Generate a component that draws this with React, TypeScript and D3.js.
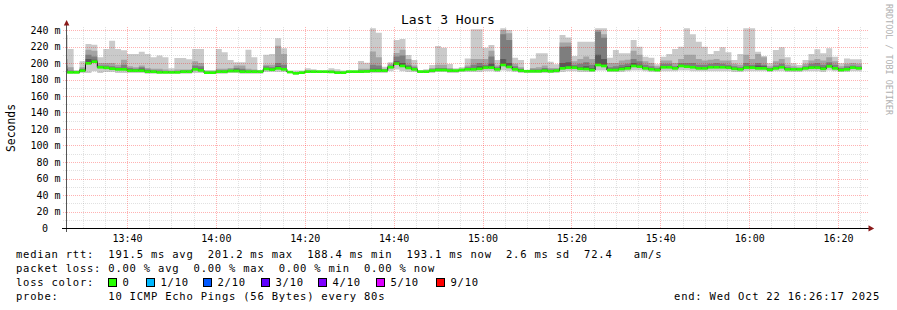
import React from 'react';
import * as d3 from 'd3';

// ---- data (ms) per 80 s column, column 0 starts 13:25:20 ----
const maxRtt = [234,217,191.5,202,223,222,207,217,227,217,215.5,211,211,213.7,211,207,209,207,193.5,206,206,204.4,217,217,191.5,191.5,217,213,203.6,200.8,200.8,216,207,191.5,210,211,230,217.8,189.5,191,191,193.5,192.3,191,191,193.5,192.5,191,191,191,202.4,200.4,242,236.8,195.5,200.8,227.9,229,209.7,203.6,191,192.3,197.6,220.6,218.6,198.8,193.5,194.8,205.6,241,241,218.6,221.8,203.6,242,240,206.5,203.6,191,205.6,211.7,211.7,201.6,198.4,234,231,208.5,225.9,225.9,225.9,242,242,206.5,215.8,211.7,211.7,227.9,219.8,207.7,206.5,198.4,207.7,211,217,219.8,242,235,225.9,219.8,211,214.5,219,213,203.6,211,242,242,213.7,208.5,199.6,215.8,219,207,199.6,197.6,203.6,211,216.6,211.7,217.8,207.7,199.6,205.6,204.4,204.4];
const ping9 = [205,195,190,195,216,215,200,200,200,198,204,196,195,197,194,193,193,192,191,192,192,192,202,200,190,190,193,193,194,197,197,193,192,191,198,198,221,211,189.5,189,189,191,190.5,190,190,191,190,189.5,190,190,193,193,214,207,193,199,212,216,205,197,190.5,191,194,198,198,194,192,193,197,205,205,205,215,197,240,236,199,195,190.5,194,195,197,194,194,225,225,202,205,208,205,240,235,200,200,203,204,215,210,202,200,196,203,203,200,205,210,210,205,203,204,205,203,203,199,198,210,205,211,207,196,202,205,198,196,195,199,203,205,203,207,202,196,199,200,199];
const ping8 = [197,191,189.5,193,210,208,197,197,196,195,198,194,193,195,192,191,191,190,190,190,191,191,197,196,189,189,191,191,192,194,193,191,191,190,196,195,200,198,189,188,188.5,190,190,189.5,189.5,190,189,189,189.5,189.5,191,191,198,197,192,197,208,209,198,195,190,190,192,194,194,192,191.5,192,195,198,200,198,208,195,235,228,196,193,190,192,192,194,192,192,219.8,220,198,199,201,198,238,230.7,195,196,198,199,205,202,198,196,194,199,199,196,200,200,200,198,198,199,200,199,198,196,195,200,198,200,198,194,197,199,195,194,194,196,199,200,198,201,198,194,196,197,196];
const ping7 = [193,190,189,192,205,204,196,195,194,193,194,192,192,193,191,190,190,189.5,189.5,189.5,190,190,194,193,188.5,188.5,190,190,191,192,191,190,190,189.5,194,193,196,194,189,187.5,188,189.5,189.5,189.5,189.5,189.5,188.5,188.5,189.5,189.5,190,190,193,193,191,196,202,200,196,193,189.5,189.5,191,192.5,192.5,191,191,191.5,193,194,196,196,199,193,205,200,194,192,190,191,191,192,191,191.5,200,201,196,195,196,194,210,205,193,193,195,196,200,198,195,194,192.5,196,196,194.5,198,197,196,195,195,196,196,196,196,194,193,196,196,197,196,193,195,196,193,193,193,194.5,196,196,195,198,195,192.5,194,195.5,195];
const medianRtt = [189,188.7,188.7,190.7,199.6,201.6,194.8,194.2,193.1,192.3,192.3,190.7,190.7,190.7,189.5,189.5,188.7,188.7,188.7,188.7,189.5,189.5,192.3,191,188.3,188.3,189.5,189.5,190.3,190.3,189.5,189.5,189.5,189.5,192.7,192,193.5,192.3,189,187.5,188.3,189.5,189.5,189.5,189.5,189.2,188.3,188.3,189.5,189.5,189.5,189.8,190.7,190.7,190.7,194.8,199.2,196.4,194,192.3,189.5,189.5,190.7,191.5,191.5,190.7,190.7,191.5,192.3,192.3,193,194.4,194.4,192.3,197.6,195.2,192.3,190.7,190,190,190,190.7,190,190.7,193.5,194.4,194.4,193,192.7,191.5,197.6,196.4,191.5,191.5,192.7,193.5,196.4,195.6,193.5,192.3,191.5,194.8,194.8,193.5,196.4,195.6,194.8,193.5,193.5,194.8,194.8,194.8,194.4,193,192.3,194.4,194.4,193.5,193.5,191.9,193.5,194.8,192.3,192.3,192.3,193.5,194.4,194.4,193,195.9,193.5,191.5,192.3,194.4,193.5];
const minRtt = [187,187,187,188,188,190,188,189,189,188,188,188,188,188,187,187,187,187,187,187,187,187,188,188,187,187,187,187,188,188,187,187,187,187,189,189,189,189,188,186,187,188,188,188,188,188,187,187,188,188,188,188,188,188,188,190,192,190,189,189,188,188,188,189,189,188,188,189,189,189,189,190,190,189,191,190,189,188,188,188,188,188,188,188,189,190,190,189,189,189,191,191,189,189,189,190,191,191,190,189,189,190,190,190,191,191,190,190,190,190,190,190,190,189,189,190,190,190,190,189,190,190,189,189,189,190,190,190,189,191,190,189,189,190,190];

const yMajorTicks = [0, 20, 40, 60, 80, 100, 120, 140, 160, 180, 200, 220, 240];
const yMinorTicks = [10, 30, 50, 70, 90, 110, 130, 150, 170, 190, 210, 230];
const lossLabels = ['0', '1/10', '2/10', '3/10', '4/10', '5/10', '9/10'];
const lossColors = ['#26ff00', '#00b8ff', '#0059ff', '#5e00ff', '#7e00ff', '#dd00ff', '#ff0000'];
const lossBoxX = [108, 146, 203, 261, 318, 376, 436];
const legendRtt = 'median rtt:  191.5 ms avg  201.2 ms max  188.4 ms min  193.1 ms now  2.6 ms sd  72.4   am/s';
const legendLoss = 'packet loss: 0.00 % avg  0.00 % max  0.00 % min  0.00 % now';
const legendProbe = 'probe:       10 ICMP Echo Pings (56 Bytes) every 80s';
const endText = 'end: Wed Oct 22 16:26:17 2025';

const MONO = '"DejaVu Sans Mono", "Liberation Mono", monospace';

export default function App() {
  const W = 897, H = 310;
  const start = new Date(2025, 9, 22, 13, 26, 17);
  const end = new Date(2025, 9, 22, 16, 26, 17);
  const firstCol = new Date(2025, 9, 22, 13, 25, 20);
  const x = d3.scaleTime().domain([start, end]).range([66, 866]);
  const y = d3.scaleLinear().domain([0, 240]).range([228, 30]);
  const colStart = (i: number) => d3.timeSecond.offset(firstCol, i * 80);
  const n = medianRtt.length;

  const mk = (lo: number[], hi: number[]) => {
    const pts = lo.map((v, i) => ({ t: colStart(i), lo: v, hi: hi[i] }));
    pts.push({ t: colStart(n), lo: lo[n - 1], hi: hi[n - 1] });
    return pts;
  };
  const area = d3.area<any>().x(d => x(d.t)).y0(d => y(d.lo)).y1(d => y(d.hi)).curve(d3.curveStepAfter);
  const bands = [
    { lo: minRtt, hi: maxRtt, c: '#cacaca' },
    { lo: medianRtt, hi: ping9, c: '#a4a4a4' },
    { lo: medianRtt, hi: ping8, c: '#7e7e7e' },
    { lo: medianRtt, hi: ping7, c: '#585858' },
  ];
  const medPts = medianRtt.map((v, i) => ({ t: colStart(i), v }));
  medPts.push({ t: colStart(n), v: medianRtt[n - 1] });
  const medLine = d3.line<any>().x(d => x(d.t)).y(d => y(d.v)).curve(d3.curveStepAfter);

  const majorX = d3.timeMinute.every(20)!.range(start, end);
  const minorX = d3.timeMinute.every(5)!.range(start, end).filter(t => t.getMinutes() % 20 !== 0);
  const fmt = d3.timeFormat('%H:%M');

  const minorColor = 'rgba(128,128,128,0.24)';
  const majorColor = 'rgba(255,0,0,0.3)';

  return (
    <svg width={W} height={H} style={{ position: 'absolute', left: 0, top: 0, background: '#fff' }}>
      <rect x={0} y={0} width={W} height={H} fill="#fff" />
      <defs>
        <clipPath id="plot"><rect x={66} y={24} width={800} height={204} /></clipPath>
      </defs>
      <text x={448} y={24} textAnchor="middle" fontFamily={MONO} fontSize={13} fill="#000">Last 3 Hours</text>
      <text transform="translate(886,4) rotate(90)" fontFamily={MONO} fontSize={8.4} fill="#b0b0b0">RRDTOOL / TOBI OETIKER</text>
      <text transform="translate(15,128) rotate(-90)" textAnchor="middle" fontFamily={MONO} fontSize={11.4} fill="#000">Seconds</text>

      <g clipPath="url(#plot)">
        {bands.map((b, k) => (
          <path key={k} d={area(mk(b.lo, b.hi)) || ''} fill={b.c} />
        ))}
        <path d={medLine(medPts) || ''} fill="none" stroke="#111" strokeWidth={1} />
        {medianRtt.map((v, i) => (
          <line key={i} x1={x(colStart(i))} x2={x(colStart(i + 1))} y1={y(v)} y2={y(v)} stroke="#26ff00" strokeWidth={2.7} />
        ))}
      </g>

      <g shapeRendering="crispEdges">
        {yMinorTicks.map(v => (
          <line key={'ym' + v} x1={63} x2={868} y1={Math.round(y(v)) + 0.5} y2={Math.round(y(v)) + 0.5} stroke={minorColor} strokeDasharray="1,1" />
        ))}
        {minorX.map(t => (
          <line key={'xm' + t.getTime()} x1={Math.round(x(t)) + 0.5} x2={Math.round(x(t)) + 0.5} y1={27} y2={228} stroke={minorColor} strokeDasharray="1,1" />
        ))}
        {yMajorTicks.filter(v => v > 0).map(v => (
          <line key={'yM' + v} x1={63} x2={868} y1={Math.round(y(v)) + 0.5} y2={Math.round(y(v)) + 0.5} stroke={majorColor} strokeDasharray="1,1" />
        ))}
        {majorX.map(t => (
          <line key={'xM' + t.getTime()} x1={Math.round(x(t)) + 0.5} x2={Math.round(x(t)) + 0.5} y1={27} y2={228} stroke={majorColor} strokeDasharray="1,1" />
        ))}
        <line x1={66.5} x2={66.5} y1={232} y2={25} stroke="#555" />
        <line x1={62} x2={869} y1={228.5} y2={228.5} stroke="#000" />
      </g>
      <path d="M63.8,25.5 L69.4,25.5 L66.6,20 Z" fill="#8b1a1a" />
      <path d="M868.5,225.2 L868.5,231.6 L874.2,228.4 Z" fill="#8b1a1a" />

      {yMajorTicks.map(v => (
        <text key={'yl' + v} x={v === 0 ? 48 : 60.5} y={y(v) + 3.6} textAnchor="end" fontFamily={MONO} fontSize={10} fill="#000">
          {v === 0 ? '0' : `${v} m`}
        </text>
      ))}
      {majorX.map(t => (
        <text key={'xl' + t.getTime()} x={x(t) + 0.5} y={241.5} textAnchor="middle" fontFamily={MONO} fontSize={10} fill="#000">{fmt(t)}</text>
      ))}

      <g fontFamily={MONO} fontSize={10.5} fill="#000" style={{ letterSpacing: '0.78px', whiteSpace: 'pre' }}>
        <text x={16} y={258} xmlSpace="preserve">{legendRtt}</text>
        <text x={16} y={272} xmlSpace="preserve">{legendLoss}</text>
        <text x={16} y={286} xmlSpace="preserve">loss color:</text>
        {lossLabels.map((l, i) => (
          <g key={l}>
            <rect x={lossBoxX[i] + 0.5} y={278.5} width={8} height={8} fill={lossColors[i]} stroke="#000" strokeWidth={1} />
            <text x={lossBoxX[i] + 14.5} y={286}>{l}</text>
          </g>
        ))}
        <text x={16} y={300} xmlSpace="preserve">{legendProbe}</text>
        <text x={880} y={300} textAnchor="end" xmlSpace="preserve">{endText}</text>
      </g>
    </svg>
  );
}
